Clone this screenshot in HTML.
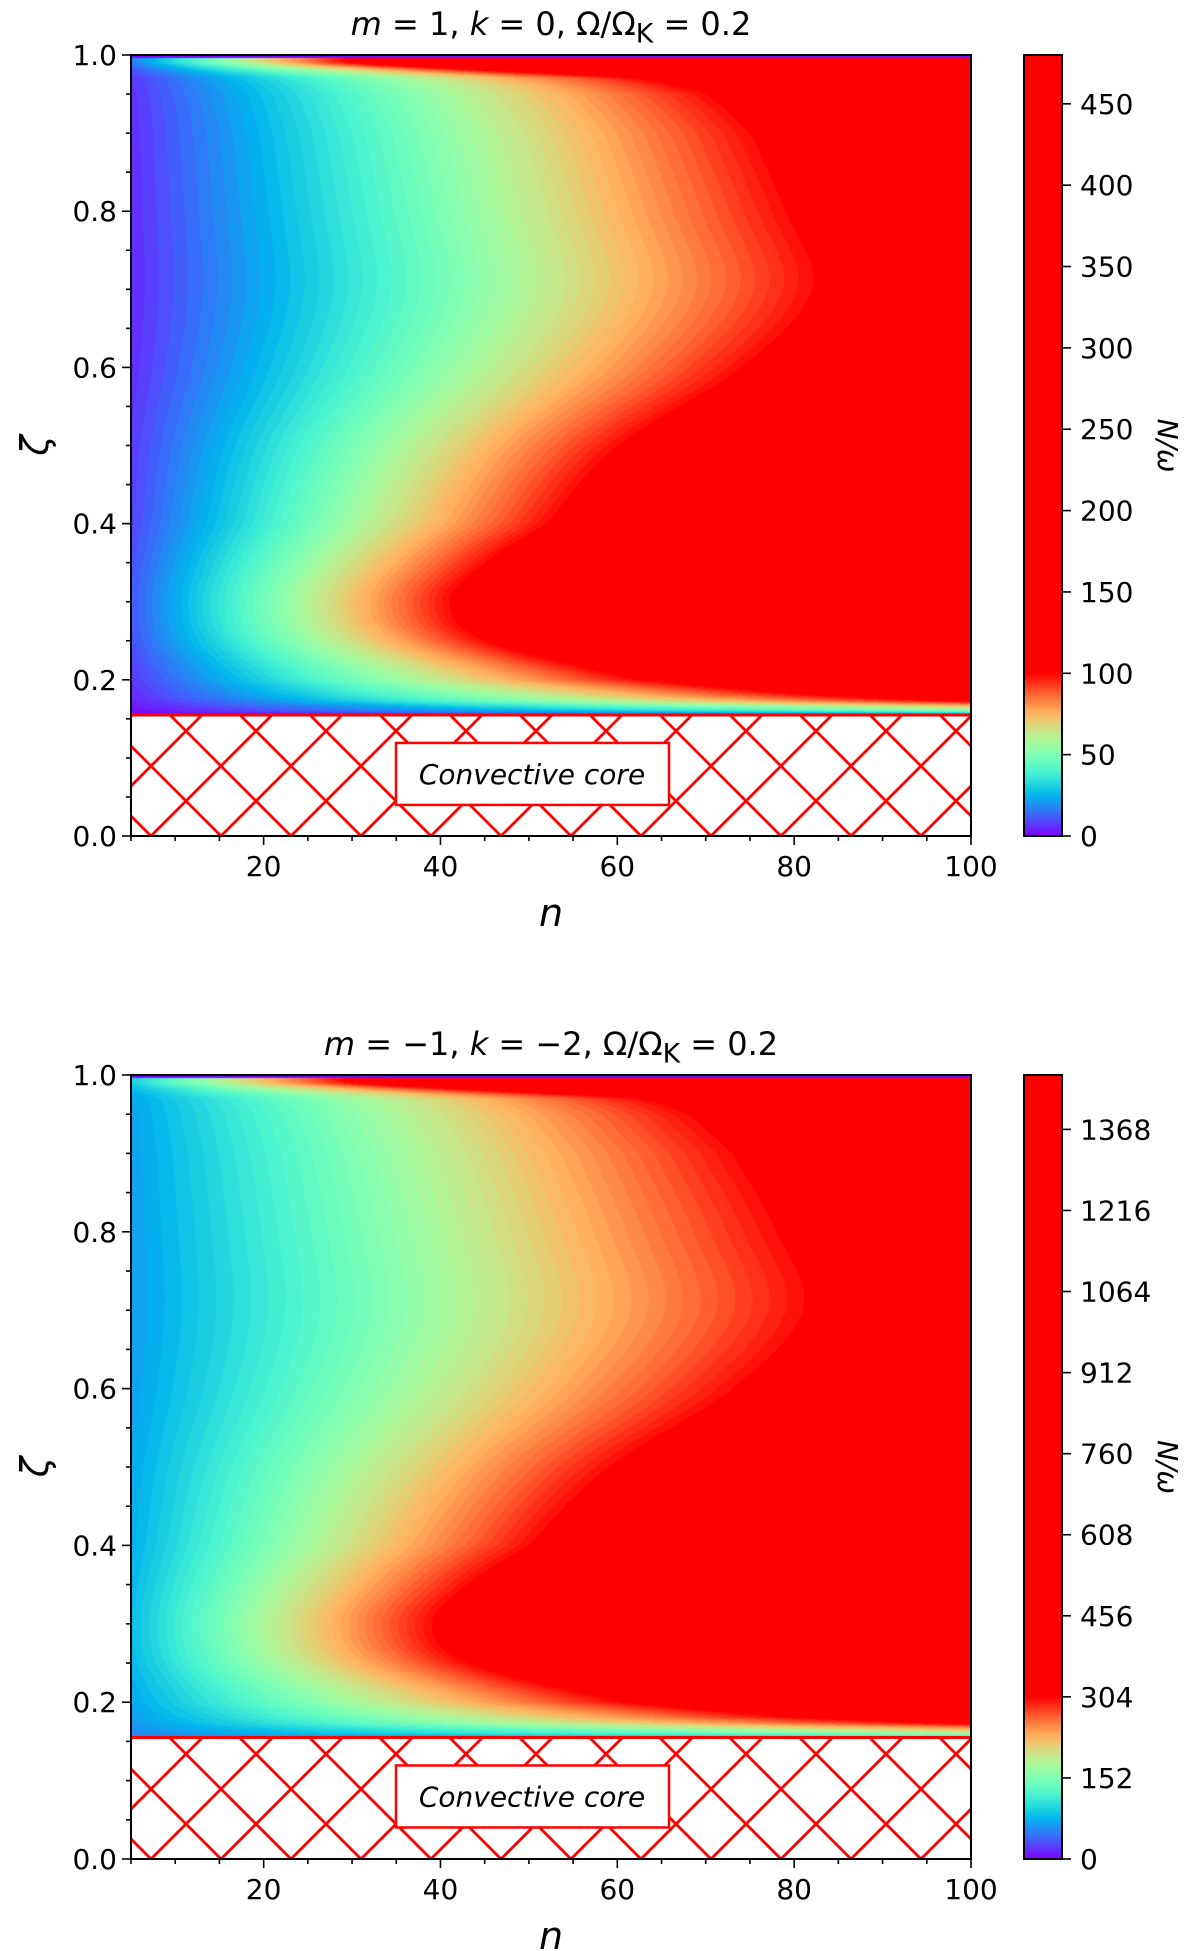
<!DOCTYPE html>
<html><head><meta charset="utf-8">
<style>
body{margin:0;background:#fff;width:1200px;height:1951px;overflow:hidden;font-family:"Liberation Sans","DejaVu Sans",sans-serif}
.a{position:absolute}
canvas{position:absolute}
</style></head>
<body>
<div id="root" class="a" style="left:0;top:0;width:1200px;height:1951px"></div>
<script>
// Shared zeta samples and red-boundary n positions (where value reaches colour saturation)
const zetaSamples=[0.155,0.16,0.17,0.18,0.2,0.25,0.3,0.35,0.4,0.5,0.6,0.7,0.8,0.9,0.95,0.97,0.98,0.99,1.0];
const boundaryTop=[400,200,110,82,62,45,41,45,52,60,74,82,79,75,70,62,45,30,30];
const boundaryBottom=[400,200,110,80,60,43,39,43,50,59,73,81,78,73,68,62,45,30,30];
const offsetTop=[0.0];
const offsetBottom=[0.17];
const cbarTicksTop=[0,50,100,150,200,250,300,350,400,450];
const cbarTicksBottom=[0,152,304,456,608,760,912,1064,1216,1368];
const cbarMax=[480,1470];
const satValue=[100,304];
const titles=["<i>m</i> = 1, <i>k</i> = 0, Ω/Ω<sub>K</sub> = 0.2","<i>m</i> = −1, <i>k</i> = −2, Ω/Ω<sub>K</sub> = 0.2"];
const xTicks=[20,40,60,80,100];
const yTicks=[0,0.2,0.4,0.6,0.8,1.0];

const NS='http://www.w3.org/2000/svg';
const root=document.getElementById('root');
const X0=131,X1=971,XMIN=5,XMAX=100;
const sx=v=>X0+(v-XMIN)/(XMAX-XMIN)*(X1-X0);
function rainbow(x){x=Math.max(0,Math.min(1,x));
 const r=Math.min(1,Math.abs(2*x-0.5)),g=Math.sin(Math.PI*x),b=Math.cos(Math.PI*x/2);
 return [Math.round(r*255),Math.round(Math.max(0,g)*255),Math.round(Math.max(0,b)*255)];}
function interp(z,arr){
 const n=zetaSamples.length;
 for(let i=0;i<n-1;i++){if(z<=zetaSamples[i+1]){
  const t=(z-zetaSamples[i])/(zetaSamples[i+1]-zetaSamples[i]);
  const p0=arr[Math.max(0,i-1)],p1=arr[i],p2=arr[i+1],p3=arr[Math.min(n-1,i+2)];
  const m1=(p2-p0)/2,m2=(p3-p1)/2;
  const t2=t*t,t3=t2*t;
  let v=(2*t3-3*t2+1)*p1+(t3-2*t2+t)*m1+(-2*t3+3*t2)*p2+(t3-t2)*m2;
  return Math.max(Math.min(p1,p2)*0.95,v);}}
 return arr[n-1];}

function panel(idx,Y0,Y1,bnd,off,cticks){
 const sy=v=>Y1-v*(Y1-Y0);
 const coreY=sy(0.155);
 const cv=document.createElement('canvas');
 
 
 const W=X1-X0,H=Math.round(coreY-Y0);
 cv.width=W;cv.height=H;cv.style.left=X0+'px';cv.style.top=Y0+'px';
 const ctx=cv.getContext('2d');const img=ctx.createImageData(W,H);
 for(let py=0;py<H;py++){
  const z=1-(py+0.5)/(Y1-Y0);
  const b=interp(z,bnd);
  for(let px=0;px<W;px++){
   const n=XMIN+(px+0.5)/W*(XMAX-XMIN);
   let f=off[0]+(1-off[0])*n/b;
   if(z>0.996) f=0.03;
   f=Math.floor(Math.min(1,f)*50)/50;
   const c=rainbow(f);const k=(py*W+px)*4;
   img.data[k]=c[0];img.data[k+1]=c[1];img.data[k+2]=c[2];img.data[k+3]=255;}}
 ctx.putImageData(img,0,0);root.appendChild(cv);
 const svg=document.createElementNS(NS,'svg');
 svg.setAttribute('width',1200);svg.setAttribute('height',1951);
 svg.style.position='absolute';svg.style.left='0';svg.style.top='0';
 
 
 root.appendChild(svg);
 const add=(tag,at,txt)=>{const e=document.createElementNS(NS,tag);for(const k in at)e.setAttribute(k,at[k]);if(txt!==undefined)e.textContent=txt;svg.appendChild(e);return e;};
 const clipId='clip'+idx;
 const defs=add('defs',{});
 const cp=document.createElementNS(NS,'clipPath');cp.setAttribute('id',clipId);
 const cr=document.createElementNS(NS,'rect');cr.setAttribute('x',X0);cr.setAttribute('y',coreY);cr.setAttribute('width',X1-X0);cr.setAttribute('height',Y1-coreY);
 cp.appendChild(cr);defs.appendChild(cp);
 const g=add('g',{'clip-path':'url(#'+clipId+')'});
 
 
 const sp=70;
 for(let c=-400;c<1200;c+=sp){
  for(const d of [1,-1]){
   const l=document.createElementNS(NS,'line');
   const x0=X0+c;
   l.setAttribute('x1',x0);l.setAttribute('y1',Y1);
   l.setAttribute('x2',x0+d*400);l.setAttribute('y2',Y1-400);
   l.setAttribute('stroke','#ff0000');l.setAttribute('stroke-width',2.8);g.appendChild(l);}}
 add('line',{x1:X0,x2:X1,y1:coreY,y2:coreY,stroke:'#ff0000','stroke-width':3});
 const bx=add('rect',{x:396,y:coreY+28,width:273,height:62,fill:'#fff',stroke:'#ff0000','stroke-width':2.5});
 
 const lt=add('text',{x:532,y:coreY+69,'text-anchor':'middle','font-size':28,'font-style':'italic','font-family':'DejaVu Sans'},'Convective core');
 
 add('rect',{x:X0,y:Y0,width:X1-X0,height:Y1-Y0,fill:'none',stroke:'#000','stroke-width':2});
 for(let v=5;v<=100;v+=5){const x=sx(v);const maj=v%20===0;
  add('line',{x1:x,x2:x,y1:Y1,y2:Y1+(maj?9:5),stroke:'#000','stroke-width':1.6});}
 xTicks.forEach(v=>{const t=add('text',{x:sx(v),y:Y1+40,'text-anchor':'middle','font-size':28,'font-family':'DejaVu Sans'},String(v));
  });
 for(let i=0;i<=20;i++){const v=i*0.05;const y=sy(v);const maj=i%4===0;
  add('line',{x1:X0,x2:X0-(maj?9:5),y1:y,y2:y,stroke:'#000','stroke-width':1.6});}
 yTicks.forEach(v=>{const t=add('text',{x:X0-14,y:sy(v)+10,'text-anchor':'end','font-size':28,'font-family':'DejaVu Sans'},v.toFixed(1));
  });
 const xl=add('text',{x:551,y:Y1+90,'text-anchor':'middle','font-size':38,'font-style':'italic','font-family':'DejaVu Sans'},'n');
 
 const yl=add('text',{x:0,y:0,'text-anchor':'middle','font-size':38,'font-style':'italic','font-family':'DejaVu Sans',transform:`translate(48,${(Y0+Y1)/2}) rotate(-90)`},'ζ');
 
 const CX=1024,CW=38,cmax=cbarMax[idx],sat=satValue[idx];
 const cy=v=>Y1-v/cmax*(Y1-Y0);
 const gradId='grad'+idx;
 const lg=document.createElementNS(NS,'linearGradient');lg.setAttribute('id',gradId);
 lg.setAttribute('x1',0);lg.setAttribute('y1',1);lg.setAttribute('x2',0);lg.setAttribute('y2',0);
 for(let i=0;i<=40;i++){const f=i/40;const c=rainbow(f);const st=document.createElementNS(NS,'stop');
  st.setAttribute('offset',(f*sat/cmax));st.setAttribute('stop-color',`rgb(${c})`);lg.appendChild(st);}
 const st=document.createElementNS(NS,'stop');st.setAttribute('offset',1);st.setAttribute('stop-color','#ff0000');lg.appendChild(st);
 defs.appendChild(lg);
 const cb=add('rect',{x:CX,y:Y0,width:CW,height:Y1-Y0,fill:`url(#${gradId})`,stroke:'#000','stroke-width':2});
 
 cticks.forEach(v=>{const y=cy(v);add('line',{x1:CX+CW,x2:CX+CW+9,y1:y,y2:y,stroke:'#000','stroke-width':1.6});
  const t=add('text',{x:CX+CW+18,y:y+10,'font-size':28,'font-family':'DejaVu Sans'},String(v));
  });
 const cl=add('text',{x:0,y:0,'text-anchor':'middle','font-size':28,'font-style':'italic','font-family':'DejaVu Sans',transform:`translate(1158,${(Y0+Y1)/2}) rotate(90)`},'N/ω');
 
 const td=document.createElement('div');td.className='a';
 
 
 td.style.cssText=`left:${X0}px;width:${X1-X0}px;top:${Y0-50}px;text-align:center;font-size:32px;font-family:"DejaVu Sans",sans-serif;white-space:nowrap`;
 td.innerHTML=titles[idx];
 root.appendChild(td);
}
panel(0,55,836,boundaryTop,offsetTop,cbarTicksTop);
panel(1,1075,1859,boundaryBottom,offsetBottom,cbarTicksBottom);
</script>
</body></html>
